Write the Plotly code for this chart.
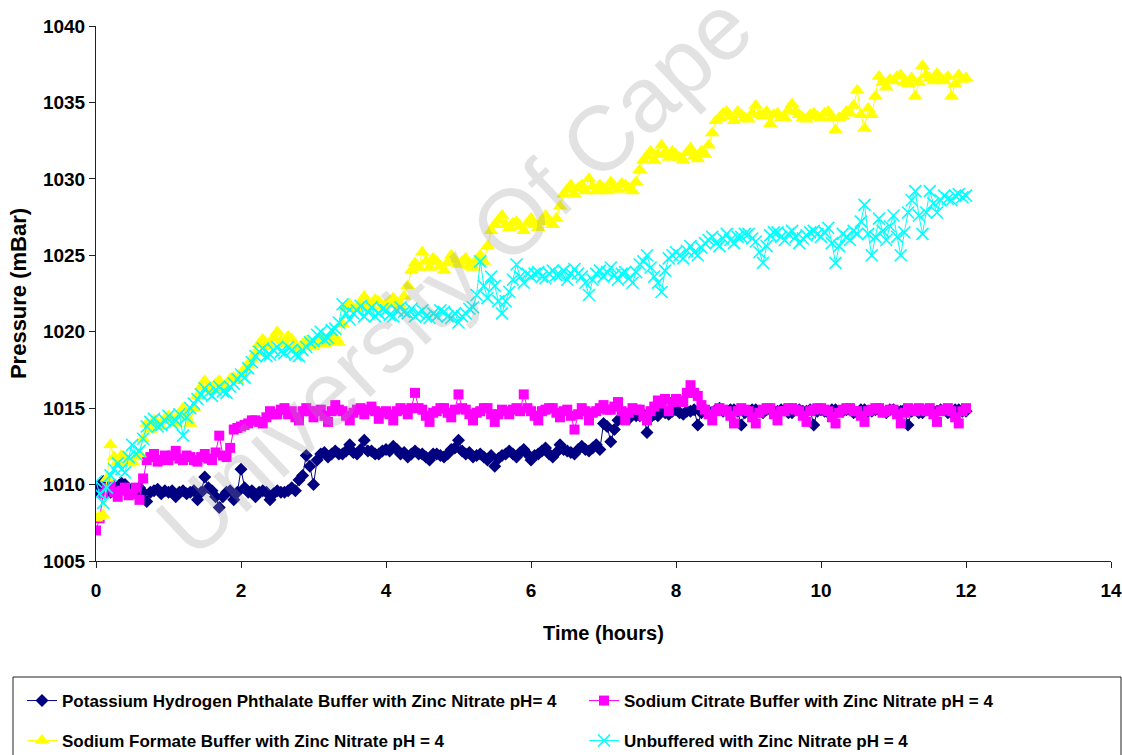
import numpy as np
import plotly.graph_objects as go

# time grid (hours), one reading every 0.05 h (3 min)
hours = np.round(np.arange(0, 12.001, 0.05), 2)

# one row per hour (20 readings), final reading at 12.0 h
khp = [
    1009.6, 1009.9, 1010.2, 1009.7, 1009.5, 1009.6, 1009.8, 1010.1, 1010.0, 1009.7, 1009.5, 1009.4, 1009.8, 1009.5, 1008.9, 1009.5, 1009.6, 1009.7, 1009.4, 1009.6,
    1009.5, 1009.6, 1009.2, 1009.5, 1009.6, 1009.4, 1009.5, 1009.6, 1009.0, 1009.5, 1010.5, 1009.8, 1009.6, 1009.2, 1008.5, 1009.2, 1009.5, 1009.6, 1009.0, 1009.5,
    1011.0, 1009.8, 1009.5, 1009.6, 1009.2, 1009.5, 1009.6, 1009.5, 1009.0, 1009.4, 1009.6, 1009.5, 1009.5, 1009.6, 1009.8, 1009.6, 1010.3, 1010.6, 1011.9, 1011.2,
    1010.0, 1011.6, 1012.0, 1012.1, 1011.8, 1012.0, 1012.2, 1012.0, 1012.0, 1012.2, 1012.6, 1012.1, 1012.0, 1012.3, 1012.9, 1012.2, 1012.2, 1012.0, 1012.0, 1012.2,
    1012.3, 1012.2, 1012.5, 1012.3, 1012.0, 1012.1, 1011.8, 1012.0, 1012.2, 1012.0, 1012.0, 1011.8, 1011.6, 1012.0, 1012.0, 1011.9, 1011.8, 1012.0, 1012.3, 1012.4,
    1012.9, 1012.2, 1012.0, 1012.1, 1011.8, 1011.9, 1012.0, 1011.8, 1011.6, 1011.9, 1011.2, 1011.7, 1011.9, 1012.0, 1012.2, 1012.0, 1011.8, 1012.1, 1012.3, 1012.0,
    1011.6, 1011.9, 1012.0, 1012.2, 1012.4, 1012.0, 1011.8, 1012.1, 1012.6, 1012.3, 1012.2, 1012.1, 1012.0, 1012.3, 1012.5, 1012.3, 1012.2, 1012.4, 1012.6, 1012.3,
    1014.0, 1013.8, 1012.8, 1013.6, 1014.2, 1014.4, 1014.5, 1014.3, 1014.6, 1014.5, 1014.5, 1014.6, 1013.4, 1014.4, 1014.6, 1014.5, 1014.8, 1014.7, 1014.6, 1014.8,
    1014.9, 1014.7, 1014.6, 1014.8, 1014.8, 1014.9, 1013.9, 1014.7, 1014.9, 1014.8, 1014.7, 1014.9, 1015.0, 1014.8, 1014.8, 1014.9, 1014.9, 1014.8, 1013.9, 1014.7,
    1014.8, 1014.9, 1014.9, 1014.8, 1014.7, 1014.9, 1014.9, 1014.8, 1014.8, 1014.9, 1014.9, 1014.7, 1014.7, 1014.9, 1014.9, 1014.8, 1014.8, 1014.9, 1013.9, 1014.8,
    1014.9, 1014.8, 1014.7, 1014.9, 1014.9, 1014.8, 1014.8, 1014.9, 1014.9, 1014.7, 1014.7, 1014.9, 1014.9, 1014.8, 1014.8, 1014.9, 1014.9, 1014.8, 1014.7, 1014.9,
    1014.9, 1014.8, 1014.8, 1014.9, 1013.9, 1014.8, 1014.9, 1014.7, 1014.7, 1014.9, 1014.9, 1014.8, 1014.8, 1014.9, 1014.9, 1014.7, 1014.7, 1014.9, 1014.9, 1014.8,
    1014.8,
]

citrate = [
    1007.0, 1007.8, 1009.4, 1009.8, 1010.0, 1009.5, 1009.2, 1009.6, 1009.8, 1009.3, 1009.4, 1009.8, 1009.0, 1010.4, 1011.6, 1011.8, 1012.0, 1011.5, 1011.6, 1011.9,
    1011.6, 1011.9, 1012.2, 1011.7, 1011.6, 1011.9, 1011.8, 1011.6, 1011.5, 1011.8, 1012.0, 1011.7, 1011.6, 1012.1, 1013.2, 1011.9, 1011.8, 1012.4, 1013.6, 1013.7,
    1013.8, 1013.9, 1014.0, 1014.2, 1014.2, 1014.1, 1014.0, 1014.4, 1014.8, 1014.6, 1014.6, 1014.9, 1015.0, 1014.6, 1014.8, 1014.4, 1014.2, 1014.8, 1015.0, 1014.8,
    1014.4, 1014.8, 1014.9, 1014.5, 1014.1, 1014.8, 1015.2, 1014.9, 1014.8, 1014.5, 1014.2, 1014.7, 1014.9, 1015.0, 1014.6, 1014.9, 1015.1, 1014.8, 1014.3, 1014.7,
    1014.8, 1014.6, 1014.2, 1014.8, 1015.0, 1014.9, 1014.6, 1015.0, 1016.0, 1015.0, 1014.9, 1014.5, 1014.1, 1014.7, 1014.8, 1015.0, 1015.0, 1014.7, 1014.4, 1014.9,
    1015.9, 1015.0, 1014.9, 1014.6, 1014.2, 1014.7, 1014.8, 1015.0, 1015.0, 1014.6, 1014.1, 1014.6, 1014.9, 1014.8, 1014.6, 1014.9, 1015.0, 1014.8, 1015.9, 1015.0,
    1014.8, 1014.5, 1014.2, 1014.8, 1014.9, 1015.0, 1015.0, 1014.7, 1014.4, 1014.8, 1014.9, 1014.5, 1013.6, 1014.6, 1015.0, 1014.8, 1014.2, 1014.7, 1014.8, 1015.0,
    1015.2, 1014.9, 1014.9, 1015.1, 1015.4, 1014.8, 1014.2, 1014.7, 1015.0, 1014.9, 1014.9, 1014.5, 1014.2, 1014.8, 1015.1, 1015.5, 1015.3, 1015.6, 1014.8, 1015.4,
    1015.6, 1015.5, 1015.4, 1016.0, 1016.5, 1016.0, 1015.8, 1015.2, 1014.9, 1014.6, 1014.2, 1014.8, 1015.0, 1014.9, 1014.8, 1014.5, 1014.0, 1014.8, 1015.0, 1014.9,
    1014.8, 1014.4, 1014.0, 1014.7, 1014.9, 1015.0, 1015.0, 1014.6, 1014.2, 1014.8, 1014.8, 1015.0, 1015.0, 1014.9, 1014.8, 1014.5, 1014.1, 1014.8, 1014.9, 1015.0,
    1015.0, 1014.9, 1014.8, 1014.4, 1014.0, 1014.7, 1014.9, 1015.0, 1015.0, 1014.8, 1014.8, 1014.5, 1014.1, 1014.8, 1014.9, 1015.0, 1015.0, 1014.7, 1014.8, 1014.9,
    1014.9, 1014.6, 1014.0, 1014.7, 1015.0, 1014.9, 1014.8, 1015.0, 1014.9, 1014.8, 1015.0, 1014.6, 1014.1, 1014.8, 1014.9, 1015.0, 1014.8, 1014.4, 1014.0, 1014.8,
    1015.0,
]

formate = [
    1007.8, 1007.9, 1008.0, 1010.4, 1012.6, 1011.8, 1011.5, 1011.9, 1011.8, 1011.4, 1011.5, 1011.8, 1012.0, 1013.0, 1014.0, 1013.6, 1014.2, 1014.0, 1013.8, 1014.3,
    1014.5, 1014.2, 1014.0, 1014.6, 1015.0, 1014.4, 1014.0, 1015.0, 1015.8, 1016.4, 1016.8, 1016.4, 1016.2, 1016.6, 1016.8, 1016.3, 1016.4, 1016.9, 1017.0, 1016.8,
    1017.2, 1017.6, 1017.8, 1018.2, 1018.6, 1019.2, 1019.5, 1019.1, 1019.0, 1019.6, 1020.0, 1019.4, 1019.2, 1019.7, 1019.5, 1019.0, 1018.8, 1019.2, 1019.4, 1019.1,
    1019.0, 1019.4, 1019.6, 1019.2, 1019.3, 1019.8, 1019.6, 1019.3, 1020.5, 1021.6, 1021.8, 1021.5, 1021.5, 1021.9, 1022.3, 1021.8, 1021.6, 1022.1, 1022.0, 1021.7,
    1021.8, 1022.0, 1022.2, 1021.8, 1021.7, 1022.3, 1023.0, 1024.0, 1024.5, 1024.2, 1025.2, 1024.6, 1024.2, 1024.8, 1024.6, 1024.3, 1024.0, 1024.5, 1025.0, 1024.7,
    1024.4, 1024.6, 1024.8, 1024.3, 1024.2, 1024.7, 1025.0, 1024.6, 1025.6, 1026.6, 1027.0, 1027.3, 1027.6, 1027.0, 1026.8, 1027.1, 1027.2, 1026.9, 1026.6, 1027.1,
    1027.4, 1027.0, 1026.8, 1027.2, 1027.6, 1027.3, 1027.0, 1027.4, 1028.2, 1029.0, 1029.3, 1029.6, 1029.0, 1029.4, 1029.6, 1029.2, 1030.0, 1029.5, 1029.2, 1029.6,
    1029.4, 1029.2, 1029.8, 1029.5, 1029.3, 1029.7, 1029.6, 1029.4, 1029.2, 1029.8, 1030.6, 1031.2, 1031.5, 1031.8, 1031.2, 1031.6, 1032.2, 1031.7, 1031.4, 1031.8,
    1031.6, 1031.4, 1031.2, 1031.7, 1032.0, 1031.5, 1031.3, 1031.8, 1031.6, 1032.2, 1033.0, 1033.8, 1034.0, 1034.3, 1034.4, 1034.1, 1033.8, 1034.4, 1034.2, 1034.0,
    1033.9, 1034.3, 1034.8, 1034.2, 1034.1, 1034.4, 1033.6, 1034.2, 1034.3, 1034.0, 1034.0, 1034.5, 1034.9, 1034.4, 1034.2, 1034.0, 1033.9, 1034.2, 1034.3, 1034.1,
    1034.0, 1034.3, 1034.4, 1034.0, 1033.2, 1034.0, 1034.1, 1034.4, 1034.3, 1034.8, 1035.8, 1034.2, 1033.3, 1034.6, 1034.2, 1035.4, 1036.7, 1036.3, 1036.0, 1036.5,
    1036.4, 1036.7, 1036.8, 1036.3, 1036.2, 1036.6, 1035.4, 1036.3, 1037.4, 1036.8, 1036.6, 1036.4, 1036.9, 1036.6, 1036.4, 1036.7, 1035.4, 1036.2, 1036.8, 1036.5,
    1036.6,
]

unbuffered = [
    1010.2, 1009.4, 1008.8, 1009.8, 1010.6, 1011.0, 1011.4, 1011.0, 1010.8, 1011.8, 1012.6, 1012.0, 1012.2, 1013.0, 1013.8, 1014.1, 1014.3, 1013.8, 1013.9, 1014.2,
    1014.5, 1014.0, 1014.2, 1014.6, 1013.2, 1014.4, 1015.0, 1015.3, 1015.6, 1015.9, 1016.3, 1016.0, 1015.8, 1016.2, 1016.4, 1016.1, 1016.0, 1016.4, 1016.6, 1016.9,
    1017.2, 1017.0, 1017.6, 1018.0, 1018.4, 1018.7, 1018.9, 1018.4, 1018.5, 1018.8, 1019.0, 1018.7, 1018.6, 1019.0, 1018.8, 1018.5, 1018.4, 1018.8, 1019.0, 1019.3,
    1019.4, 1019.8, 1020.0, 1019.5, 1019.6, 1020.1, 1020.2, 1020.6, 1021.8, 1021.2, 1020.8, 1021.2, 1021.4, 1021.7, 1021.0, 1021.3, 1021.6, 1021.0, 1021.2, 1021.5,
    1021.4, 1021.1, 1021.0, 1021.4, 1021.6, 1021.3, 1021.2, 1021.5, 1021.0, 1021.2, 1021.4, 1021.0, 1020.9, 1021.2, 1021.0, 1021.4, 1021.3, 1021.0, 1020.9, 1021.2,
    1020.6, 1021.0, 1021.2, 1021.5, 1021.6, 1022.4, 1024.6, 1023.0, 1022.2, 1023.6, 1023.0, 1022.0, 1021.2, 1022.0, 1022.6, 1023.4, 1024.4, 1023.6, 1023.2, 1023.8,
    1023.6, 1023.8, 1023.9, 1023.6, 1023.5, 1023.8, 1024.0, 1023.7, 1023.7, 1024.0, 1023.4, 1023.8, 1024.1, 1023.8, 1023.6, 1023.2, 1022.4, 1023.4, 1023.8, 1024.0,
    1023.6, 1023.9, 1024.2, 1023.7, 1023.4, 1023.8, 1023.9, 1023.5, 1023.2, 1023.9, 1024.4, 1024.6, 1025.0, 1024.2, 1023.6, 1023.2, 1022.6, 1024.0, 1024.8, 1025.0,
    1025.2, 1025.0, 1024.8, 1025.3, 1025.6, 1025.2, 1025.0, 1025.5, 1025.8, 1026.0, 1026.2, 1025.8, 1025.6, 1026.1, 1026.4, 1026.0, 1025.8, 1026.2, 1026.2, 1026.4,
    1026.4, 1026.1, 1025.9, 1025.2, 1024.5, 1025.6, 1026.3, 1026.5, 1026.5, 1026.2, 1026.0, 1026.4, 1026.6, 1026.2, 1025.8, 1026.1, 1026.3, 1026.5, 1026.6, 1026.4,
    1026.2, 1026.5, 1026.8, 1025.8, 1024.5, 1025.6, 1026.4, 1026.2, 1026.0, 1026.6, 1026.4, 1027.2, 1028.3, 1026.4, 1025.0, 1026.2, 1027.4, 1026.6, 1026.0, 1026.9,
    1027.6, 1026.2, 1025.0, 1026.5, 1027.8, 1028.6, 1029.2, 1027.6, 1026.4, 1027.8, 1029.2, 1028.4, 1027.8, 1028.6, 1028.9, 1028.7, 1028.6, 1028.9, 1029.0, 1028.8,
    1028.9,
]

names = [
    "Potassium Hydrogen Phthalate Buffer with Zinc Nitrate pH= 4",
    "Sodium Citrate Buffer with Zinc Nitrate pH = 4",
    "Sodium Formate Buffer with Zinc Nitrate pH = 4",
    "Unbuffered with Zinc Nitrate pH = 4",
]

FONT = "Liberation Sans, Arial, sans-serif"

fig = go.Figure()
fig.add_trace(go.Scatter(x=hours, y=khp, name=names[0], mode="lines+markers",
                         line=dict(color="#000080", width=1),
                         marker=dict(symbol="diamond", size=10, color="#000080"),
                         legend="legend"))
fig.add_trace(go.Scatter(x=hours, y=citrate, name=names[1], mode="lines+markers",
                         line=dict(color="#FF00FF", width=1),
                         marker=dict(symbol="square", size=10, color="#FF00FF"),
                         legend="legend2"))
fig.add_trace(go.Scatter(x=hours, y=formate, name=names[2], mode="lines+markers",
                         line=dict(color="#FFFF00", width=1),
                         marker=dict(symbol="triangle-up", size=13, color="#FFFF00"),
                         legend="legend3"))
fig.add_trace(go.Scatter(x=hours, y=unbuffered, name=names[3], mode="lines+markers",
                         line=dict(color="#00FFFF", width=1),
                         marker=dict(symbol="x-thin", size=12, color="#00FFFF",
                                     line=dict(color="#00FFFF", width=1.6)),
                         legend="legend4"))

legend_common = dict(orientation="h", xref="container", yref="container",
                     xanchor="left", yanchor="top", bgcolor="rgba(0,0,0,0)",
                     font=dict(family=FONT, size=17, color="black", weight="bold"))

col1, col2 = 22, 584
row1, row2 = 683, 723

fig.update_layout(
    width=1122, height=755,
    margin=dict(l=96, r=11, t=26, b=194, autoexpand=False),
    paper_bgcolor="white", plot_bgcolor="white",
    showlegend=True,
    legend=dict(**legend_common, x=col1 / 1122, y=1 - row1 / 755),
    legend2=dict(**legend_common, x=col2 / 1122, y=1 - row1 / 755),
    legend3=dict(**legend_common, x=col1 / 1122, y=1 - row2 / 755),
    legend4=dict(**legend_common, x=col2 / 1122, y=1 - row2 / 755),
    xaxis=dict(range=[0, 14], dtick=2, tick0=0, showgrid=False, zeroline=False,
               automargin=False,
               showline=True, linecolor="#222222", linewidth=1,
               ticks="outside", ticklen=6, tickcolor="#222222",
               ticklabelstandoff=6,
               tickfont=dict(family=FONT, size=19, color="black", weight="bold"),
               title=dict(text="Time (hours)", standoff=26,
                          font=dict(family=FONT, size=20, color="black", weight="bold"))),
    yaxis=dict(range=[1005, 1040], dtick=5, tick0=1005, showgrid=False, zeroline=False,
               automargin=False,
               showline=True, linecolor="#222222", linewidth=1,
               ticks="outside", ticklen=6, tickcolor="#222222",
               tickfont=dict(family=FONT, size=19, color="black", weight="bold"),
               title=dict(text="Pressure (mBar)", standoff=10,
                          font=dict(family=FONT, size=22, color="black", weight="bold"))),
)

# legend frame
fig.add_shape(type="rect", xref="paper", yref="paper",
              x0=(13 - 96) / 1015, x1=(1121 - 96) / 1015,
              y0=(561 - 760) / 535, y1=(561 - 677) / 535,
              line=dict(color="#222222", width=1), fillcolor="rgba(0,0,0,0)")

# watermark
fig.add_annotation(text="University Of Cape", xref="paper", yref="paper",
                   x=(454 - 96) / 1015, y=(561 - 275) / 535,
                   showarrow=False, textangle=-43,
                   font=dict(family=FONT, size=92, color="rgba(150,150,150,0.28)"))

fig.write_html("out.html")
